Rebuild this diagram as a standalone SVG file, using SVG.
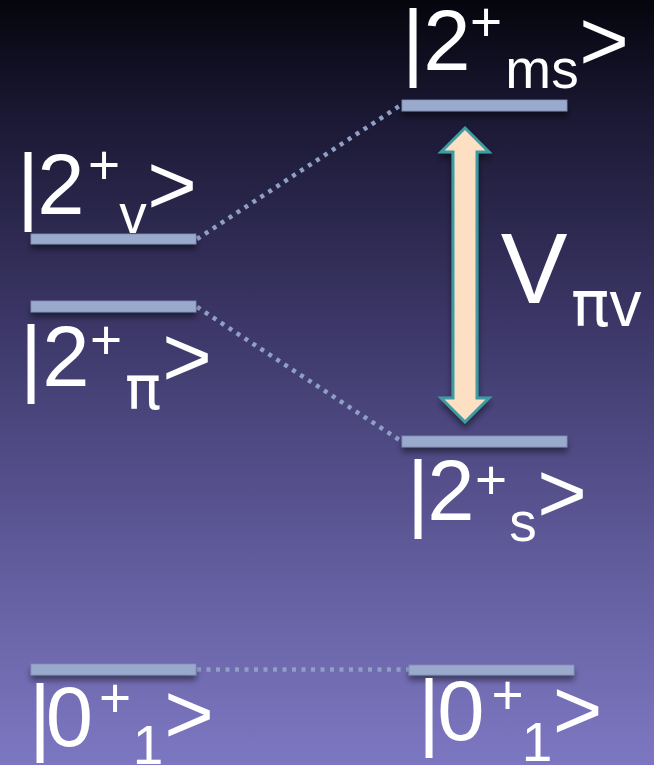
<svg xmlns="http://www.w3.org/2000/svg" width="654" height="765" viewBox="0 0 654 765">
  <defs>
    <linearGradient id="bg" x1="0" y1="0" x2="0" y2="1">
      <stop offset="0" stop-color="#05050d"/>
      <stop offset="0.15" stop-color="#1a1833"/>
      <stop offset="0.4" stop-color="#393463"/>
      <stop offset="0.6" stop-color="#514c86"/>
      <stop offset="0.85" stop-color="#6e69ad"/>
      <stop offset="1" stop-color="#7c77c1"/>
    </linearGradient>
    <filter id="shadow" x="-10%" y="-100%" width="120%" height="400%">
      <feGaussianBlur in="SourceAlpha" stdDeviation="3"/>
      <feOffset dx="0" dy="5" result="b"/>
      <feComponentTransfer><feFuncA type="linear" slope="0.45"/></feComponentTransfer>
      <feMerge><feMergeNode/><feMergeNode in="SourceGraphic"/></feMerge>
    </filter>
  </defs>
  <style>
    .bar { fill: #9aaacd; stroke: #7f8fb5; stroke-width: 0.8; filter: url(#shadow); }
    .dot { stroke: #8f9fc6; stroke-width: 4.5; stroke-dasharray: 4 5.5; fill: none; }
    .t { fill: #ffffff; font-family: "Liberation Sans", Arial, sans-serif; text-anchor: middle; }
    .pi { font-family: "DejaVu Sans", sans-serif; }
    .big { font-size: 85px; }
    .small { font-size: 55px; }
    .arrow { fill: #fde0c4; stroke: #3d9ca2; stroke-width: 3; stroke-linejoin: miter; filter: url(#shadow); }
  </style>
  <rect x="0" y="0" width="654" height="765" fill="url(#bg)"/>

  <g id="connectors">
    <line class="dot" x1="197" y1="239" x2="401" y2="105"/>
    <line class="dot" x1="197" y1="307" x2="401" y2="441"/>
    <line class="dot" x1="197" y1="669.5" x2="409" y2="669.5"/>
    <polygon class="arrow" points="465,128 489,152 477,152 477,398 489,398 465,422 441,398 453,398 453,152 441,152"/>
  </g>

  <g id="level-2ms">
    <rect class="bar" x="402" y="100" width="165" height="11"/>
    <text class="t big" x="413" y="70">|</text>
    <text class="t big" x="447" y="70">2</text>
    <text class="t small" x="486" y="41">+</text>
    <text class="t small" x="542" y="88">ms</text>
    <text class="t big" x="604" y="70">&gt;</text>
  </g>

  <g id="level-2v">
    <rect class="bar" x="31" y="234" width="165" height="10"/>
    <text class="t big" x="28" y="214">|</text>
    <text class="t big" x="61" y="214">2</text>
    <text class="t small" x="104" y="184">+</text>
    <text class="t small" x="133" y="233">v</text>
    <text class="t big" x="172" y="214">&gt;</text>
  </g>

  <g id="level-2pi">
    <rect class="bar" x="31" y="301" width="165" height="11"/>
    <text class="t big" x="31" y="386">|</text>
    <text class="t big" x="66" y="386">2</text>
    <text class="t small" x="106" y="359">+</text>
    <text class="t pi" x="143" y="409" style="font-size:60px">π</text>
    <text class="t big" x="187" y="386">&gt;</text>
  </g>

  <g id="level-2s">
    <rect class="bar" x="402" y="436" width="165" height="11"/>
    <text class="t big" x="418" y="521">|</text>
    <text class="t big" x="451" y="520">2</text>
    <text class="t small" x="491" y="499">+</text>
    <text class="t small" x="523" y="541">s</text>
    <text class="t big" x="562" y="522">&gt;</text>
  </g>

  <g id="level-0-left">
    <rect class="bar" x="31" y="664" width="165" height="11"/>
    <text class="t big" x="40" y="745">|</text>
    <text class="t big" x="69.5" y="746">0</text>
    <text class="t small" x="115" y="717">+</text>
    <text class="t small" x="148" y="764">1</text>
    <text class="t big" x="189" y="743">&gt;</text>
  </g>

  <g id="level-0-right">
    <rect class="bar" x="409" y="665" width="165" height="10"/>
    <text class="t big" x="429" y="740">|</text>
    <text class="t big" x="461" y="740">0</text>
    <text class="t small" x="507.5" y="714">+</text>
    <text class="t small" x="537" y="761">1</text>
    <text class="t big" x="577.5" y="739">&gt;</text>
  </g>

  <g id="coupling-label">
    <text class="t" x="534" y="303" style="font-size:100px">V</text>
    <text class="t" x="571" y="326" style="font-size:64px;text-anchor:start"><tspan class="pi">π</tspan>v</text>
  </g>
</svg>
